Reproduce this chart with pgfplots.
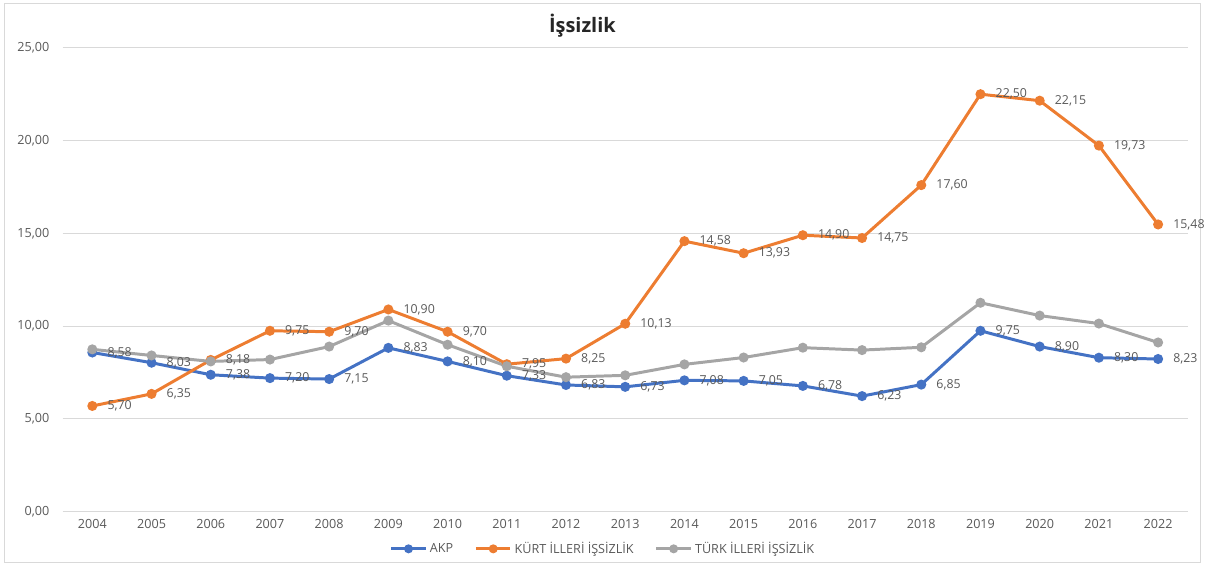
\documentclass[border=0pt]{standalone}
\usepackage{pgfplots}
\pgfplotsset{compat=1.18}
\usepackage{fontspec}
\setmainfont{Open Sans}
\definecolor{akp}{HTML}{4472C4}
\definecolor{kurt}{HTML}{ED7D31}
\definecolor{turk}{HTML}{A5A5A5}
\definecolor{txt}{HTML}{595959}
\definecolor{gridc}{HTML}{D9D9D9}
\tikzset{labelnode/.style={anchor=west, xshift=7pt, text=txt, font=\fontsize{9.3}{10}\selectfont}}
\begin{document}
\begin{tikzpicture}
\path (0,0) rectangle (906.75pt,-426pt);
\draw[gridc, line width=0.75pt] (3.75pt,-3pt) rectangle (904.5pt,-423.75pt);
\node[font=\bfseries\fontsize{15}{18}\selectfont, text=black!85] at (438.75pt,-19.5pt) {İşsizlik};
\begin{axis}[
  at={(47.25pt,-385.5pt)}, anchor=south west,
  scale only axis, width=847.5pt, height=349.5pt,
  xmin=-0.5, xmax=18.5, ymin=0, ymax=25,
  ytick={0,5,10,15,20,25},
  xtick={0,...,18},
  xticklabels={2004,2005,2006,2007,2008,2009,2010,2011,2012,2013,2014,2015,2016,2017,2018,2019,2020,2021,2022},
  axis line style={draw=none},
  major tick length=0pt,
  ymajorgrids, grid style={gridc, line width=0.75pt},
  yticklabel={\pgfmathprintnumber[fixed,fixed zerofill,precision=2,use comma,assume math mode=true]{\tick}},
  yticklabel style={text=txt, font=\fontsize{9.5}{10}\selectfont, xshift=-6.5pt},
  xticklabel style={text=txt, font=\fontsize{9.5}{10}\selectfont, yshift=-2pt},
  legend style={at={(0.4805,-0.08)}, anchor=center, draw=none, fill=none,
    legend columns=-1, font=\fontsize{9.5}{11}\selectfont, text=txt,
    /tikz/every even column/.append style={column sep=14pt}},
  legend image code/.code={\draw[mark repeat=2,mark phase=2,#1,mark size=2.2pt] plot coordinates {(0pt,0pt)(13pt,0pt)(26pt,0pt)};},
  every axis plot/.append style={line width=2.25pt, mark=*, mark size=2.6pt, mark options={solid, line width=0.75pt}},
]
\addplot[akp, mark options={fill=akp, draw=akp},
  nodes near coords={\pgfmathprintnumber[fixed,fixed zerofill,precision=2,use comma,assume math mode=true]{\pgfplotspointmeta}},
  every node near coord/.append style={labelnode}]
  coordinates {(0,8.58)(1,8.03)(2,7.38)(3,7.20)(4,7.15)(5,8.83)(6,8.10)(7,7.33)(8,6.83)(9,6.73)(10,7.08)(11,7.05)(12,6.78)(13,6.23)(14,6.85)(15,9.75)(16,8.90)(17,8.30)(18,8.23)};
\addlegendentry{AKP}
\addplot[kurt, mark options={fill=kurt, draw=kurt},
  nodes near coords={\pgfmathprintnumber[fixed,fixed zerofill,precision=2,use comma,assume math mode=true]{\pgfplotspointmeta}},
  every node near coord/.append style={labelnode}]
  coordinates {(0,5.70)(1,6.35)(2,8.18)(3,9.75)(4,9.70)(5,10.90)(6,9.70)(7,7.95)(8,8.25)(9,10.13)(10,14.58)(11,13.93)(12,14.90)(13,14.75)(14,17.60)(15,22.50)(16,22.15)(17,19.73)(18,15.48)};
\addlegendentry{KÜRT İLLERİ İŞSİZLİK}
\addplot[turk, mark options={fill=turk, draw=turk}]
  coordinates {(0,8.75)(1,8.42)(2,8.10)(3,8.20)(4,8.90)(5,10.30)(6,9.00)(7,7.84)(8,7.25)(9,7.35)(10,7.94)(11,8.31)(12,8.84)(13,8.71)(14,8.86)(15,11.26)(16,10.57)(17,10.14)(18,9.12)};
\addlegendentry{TÜRK İLLERİ İŞSİZLİK}
\end{axis}
\end{tikzpicture}
\end{document}
